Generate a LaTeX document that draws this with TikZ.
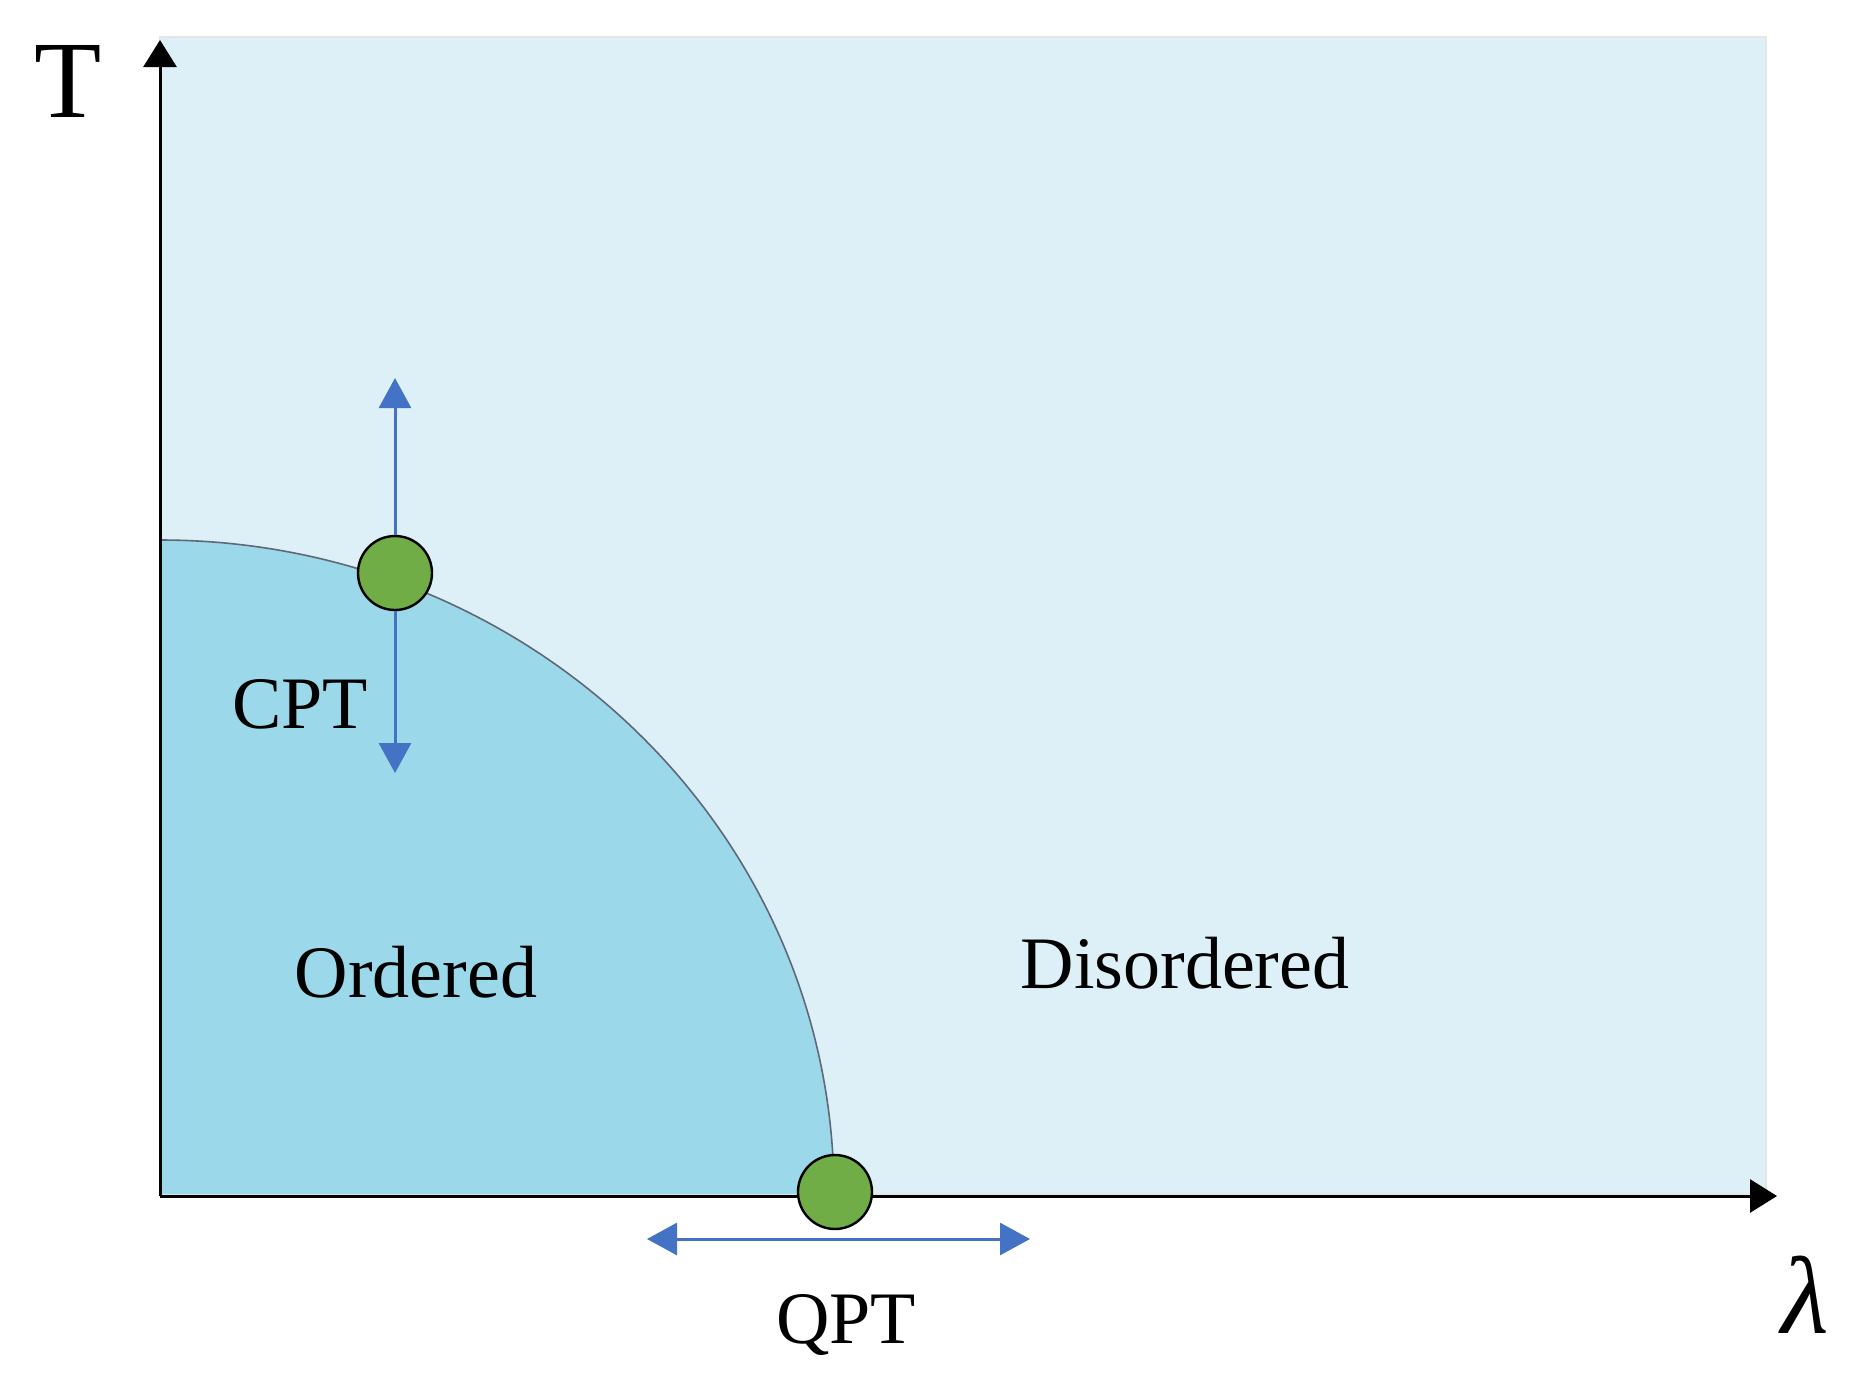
\documentclass[tikz,border=0pt]{standalone}
\usepackage{fontspec}
\setmainfont{Liberation Serif}
\usetikzlibrary{arrows.meta}
\definecolor{lightreg}{HTML}{DDF0F7}
\definecolor{darkreg}{HTML}{9BD8E9}
\definecolor{dotgreen}{HTML}{70AD47}
\definecolor{arrblue}{HTML}{4472C4}
\definecolor{curvegray}{HTML}{606878}
\tikzset{
  axis/.style={line width=1.5pt,-{Triangle[length=13.5pt,width=16.5pt]}},
  bluearrow/.style={arrblue,line width=1.5pt,-{Triangle[length=15pt,width=16pt]}},
  dot/.style={circle,fill=dotgreen,draw=black,line width=1.2pt,minimum size=37pt,inner sep=0pt},
  lab/.style={font=\fontsize{37}{40}\selectfont,anchor=base,inner sep=0pt},
  axlab/.style={font=\fontsize{55}{60}\selectfont,anchor=base,inner sep=0pt}
}
\begin{document}
\begin{tikzpicture}[x=0.5pt,y=-0.5pt]
\useasboundingbox (0,0) rectangle (1854,1372);
% regions
\fill[lightreg,draw=black!10,line width=0.6pt] (160,37) rectangle (1766,1194);
\fill[darkreg] (160,1194) -- (160,540) arc[start angle=90,end angle=0,x radius=337pt,y radius=327pt] -- cycle;
\draw[curvegray,line width=0.8pt] (160,540) arc[start angle=90,end angle=0,x radius=337pt,y radius=327pt];
% axes
\coordinate (O) at (160,1196);
\coordinate (ytop) at (160,40);
\coordinate (xend) at (1777,1196);
\draw[axis] (O) -- (ytop);
\draw[axis] (O) -- (xend);
% points
\node[dot] (cpt) at (395,573) {};
\node[dot] (qpt) at (835,1192) {};
\coordinate (cptup) at (395,378);
\coordinate (cptdown) at (395,773);
\coordinate (qL) at (647,1239);
\coordinate (qR) at (1030,1239);
\draw[bluearrow] (cpt.north) -- (cptup);
\draw[bluearrow] (cpt.south) -- (cptdown);
\draw[bluearrow,{Triangle[length=15pt,width=16pt]}-{Triangle[length=15pt,width=16pt]}] (qL) -- (qR);
% labels
\node[axlab] (tlab) at (68,117) {T};
\node[axlab] (llab) at (1805,1333) {\itshape λ};
\node[lab] (cptlab) at (300,728) {CPT};
\node[lab] (qptlab) at (846,1343) {QPT};
\node[lab] (ord) at (416,997) {Ordered};
\node[lab] (dis) at (1185,988) {Disordered};
\end{tikzpicture}
\end{document}
